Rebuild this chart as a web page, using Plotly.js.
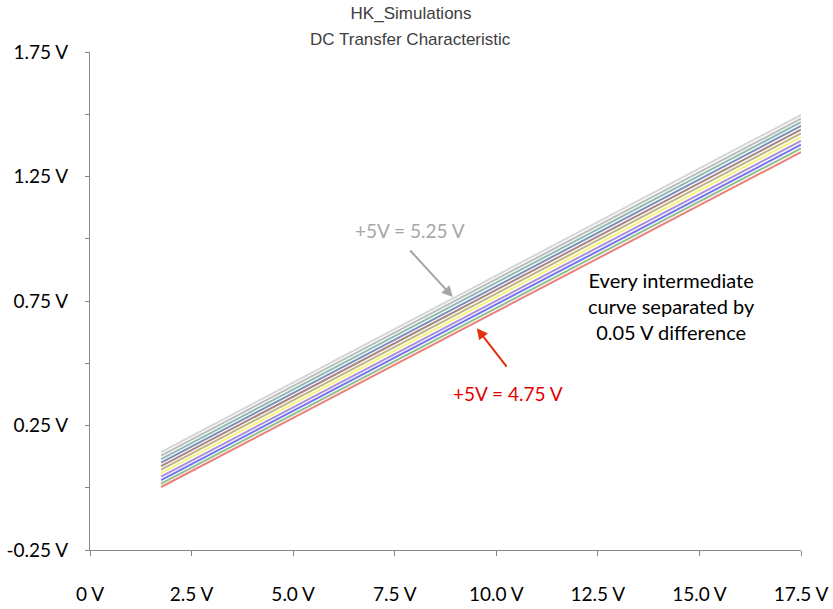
<!DOCTYPE html>
<html>
<head>
<meta charset="utf-8">
<script src="https://cdn.plot.ly/plotly-3.0.1.min.js"></script>
<style>html,body{margin:0;padding:0;background:#fff;}#chart{width:833px;height:609px;}</style>
</head>
<body>
<div id="chart"></div>
<script>
// Supply voltage (+5V rail) for each curve
var supplyLabels = ['5.25 V','5.20 V','5.15 V','5.10 V','5.05 V','5.00 V','4.95 V','4.90 V','4.85 V','4.80 V','4.75 V'];
// Input sweep points (V)
var sweepX = [1.75, 9.5, 17.5];
// Output voltage for each curve (V)
var out525 = [0.143, 0.809, 1.497];
var out520 = [0.129, 0.795, 1.482];
var out515 = [0.115, 0.781, 1.468];
var out510 = [0.101, 0.767, 1.453];
var out505 = [0.087, 0.752, 1.438];
var out500 = [0.073, 0.738, 1.423];
var out495 = [0.059, 0.723, 1.408];
var out490 = [0.045, 0.708, 1.393];
var out485 = [0.031, 0.694, 1.378];
var out480 = [0.017, 0.680, 1.363];
var out475 = [0.003, 0.665, 1.348];
var outputs = [out525, out520, out515, out510, out505, out500, out495, out490, out485, out480, out475];
var lineColors = ['#d6d6d6','#b9bdbb','#8fbab2','#7c8fb8','#a88482','#bdb483','#f7f27e','#a98fdc','#7474f2','#8fbf8a','#ec7f7a'];

// Axis ticks
var xTickVals = [0, 2.5, 5, 7.5, 10, 12.5, 15, 17.5];
var xTickText = ['0 V','2.5 V','5.0 V','7.5 V','10.0 V','12.5 V','15.0 V','17.5 V'];
var yTickVals = [-0.25, 0, 0.25, 0.5, 0.75, 1.0, 1.25, 1.5, 1.75];
var yTickText = ['-0.25 V','','0.25 V','','0.75 V','','1.25 V','','1.75 V'];

var traces = outputs.map(function(ys, i){
  return {x: sweepX, y: ys, type: 'scatter', mode: 'lines', name: '+5V = ' + supplyLabels[i],
          line: {color: lineColors[i], width: 2}, hoverinfo: 'name'};
});

var tickFont = {family: 'Lato, "Open Sans", sans-serif', size: 19, color: '#000'};
var titleFont = {family: '"Liberation Sans", Arial, sans-serif', size: 17, color: '#404040'};
var layout = {
  width: 833, height: 609,
  paper_bgcolor: '#fff', plot_bgcolor: '#fff',
  showlegend: false,
  margin: {l: 90, r: 32, t: 52, b: 59},
  title: {text: 'HK_Simulations', x: 0.4935, xanchor: 'center', y: 0.979, yanchor: 'middle', font: titleFont},
  xaxis: {range: [0, 17.5], tickvals: xTickVals, ticktext: xTickText, showgrid: false, zeroline: false,
          showline: true, linecolor: '#868686', linewidth: 1, ticks: 'outside', ticklen: 5, tickcolor: '#868686',
          tickfont: tickFont, ticklabelstandoff: 22, fixedrange: true},
  yaxis: {range: [-0.25, 1.75], tickvals: yTickVals, ticktext: yTickText, showgrid: false, zeroline: false,
          showline: true, linecolor: '#868686', linewidth: 1, ticks: 'outside', ticklen: 4, tickcolor: '#868686',
          tickfont: tickFont, ticklabelstandoff: 13, fixedrange: true},
  annotations: [
    {xref: 'paper', yref: 'paper', x: 0.451, y: 1.025, xanchor: 'center', yanchor: 'middle', showarrow: false,
     text: 'DC Transfer Characteristic', font: titleFont},
    // gray label and arrow
    {x: 7.87, y: 1.033, xref: 'x', yref: 'y', text: '+5V = 5.25 V', showarrow: false, xanchor: 'center', yanchor: 'middle',
     font: {family: 'Lato, "Open Sans", sans-serif', size: 19, color: '#a6a6a6'}},
    {x: 8.93, y: 0.766, xref: 'x', yref: 'y', text: '', showarrow: true, arrowhead: 2, arrowsize: 1.1,
     arrowwidth: 2, arrowcolor: '#a6a6a6', axref: 'pixel', ayref: 'pixel', ax: -44, ay: -48, standoff: 0},
    // red label and arrow
    {x: 10.29, y: 0.380, xref: 'x', yref: 'y', text: '+5V = 4.75 V', showarrow: false, xanchor: 'center', yanchor: 'middle',
     font: {family: 'Lato, "Open Sans", sans-serif', size: 19, color: '#e00000'}},
    {x: 9.52, y: 0.641, xref: 'x', yref: 'y', text: '', showarrow: true, arrowhead: 2, arrowsize: 1.1,
     arrowwidth: 2, arrowcolor: '#e3300f', axref: 'pixel', ayref: 'pixel', ax: 31, ay: 40, standoff: 0},
    {x: 14.32, y: 0.73, xref: 'x', yref: 'y', showarrow: false, xanchor: 'center', yanchor: 'middle',
     text: 'Every intermediate<br>curve separated by<br>0.05 V difference',
     font: {family: 'Lato, "Open Sans", sans-serif', size: 20, color: '#000'}}
  ]
};
Plotly.newPlot('chart', traces, layout, {displayModeBar: false, staticPlot: true});
</script>
</body>
</html>
